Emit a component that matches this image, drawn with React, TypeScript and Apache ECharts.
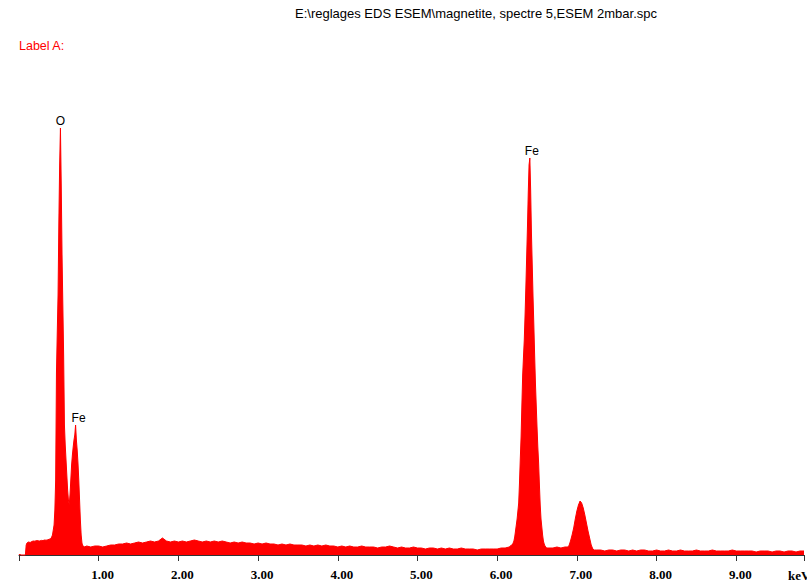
import React, { useEffect, useRef } from 'react';
import * as echarts from 'echarts';

// [keV, counts]
const lowBackground: [number, number][] = [
  [0.0, 0], [0.01, 10], [0.02, 0], [0.08, 0], [0.09, 100], [0.1, 120], [0.12, 130], [0.14, 125],
  [0.16, 135], [0.18, 140], [0.2, 138], [0.22, 145], [0.24, 142], [0.26, 140], [0.28, 146],
  [0.3, 144], [0.32, 150], [0.34, 148], [0.36, 152], [0.38, 158], [0.4, 165],
];

const oxygenAndFeL: [number, number][] = [
  [0.41, 180], [0.42, 200], [0.43, 250], [0.44, 300], [0.45, 450], [0.46, 750], [0.47, 1820],
  [0.48, 2220], [0.49, 2600], [0.5, 3320], [0.51, 3900], [0.52, 4270], [0.53, 3700], [0.54, 3000],
  [0.55, 2500], [0.56, 2000], [0.57, 1300], [0.58, 1100], [0.59, 950], [0.6, 800], [0.61, 650],
  [0.62, 550], [0.63, 500], [0.64, 600], [0.65, 750], [0.66, 900], [0.67, 1000], [0.68, 1080],
  [0.69, 1150], [0.7, 1200], [0.71, 1300], [0.72, 1150], [0.73, 1050], [0.74, 920], [0.75, 750],
  [0.76, 550], [0.77, 350], [0.78, 200], [0.79, 120], [0.8, 90], [0.81, 90], [0.82, 80],
];

const midBackground: [number, number][] = [
  [0.85, 90], [0.9, 80], [0.95, 90], [1.0, 90], [1.05, 80], [1.1, 90], [1.15, 100], [1.2, 100],
  [1.25, 110], [1.3, 110], [1.35, 120], [1.4, 110], [1.45, 120], [1.5, 130], [1.55, 120], [1.6, 130],
  [1.65, 140], [1.7, 130], [1.75, 140], [1.8, 170], [1.85, 140], [1.9, 130], [1.95, 140], [2.0, 130],
  [2.05, 140], [2.1, 130], [2.15, 140], [2.2, 150], [2.25, 140], [2.3, 130], [2.35, 140], [2.4, 130],
  [2.45, 140], [2.5, 130], [2.55, 140], [2.6, 130], [2.65, 120], [2.7, 130], [2.75, 120], [2.8, 130],
  [2.85, 120], [2.9, 120], [2.95, 110], [3.0, 120], [3.05, 110], [3.1, 120], [3.15, 110], [3.2, 110],
  [3.25, 100], [3.3, 110], [3.35, 100], [3.4, 110], [3.45, 100], [3.5, 100], [3.55, 100], [3.6, 90],
  [3.65, 100], [3.7, 90], [3.75, 100], [3.8, 90], [3.85, 100], [3.9, 90], [3.95, 90], [4.0, 80],
  [4.05, 90], [4.1, 80], [4.15, 90], [4.2, 80], [4.25, 80], [4.3, 90], [4.35, 80], [4.4, 80],
  [4.45, 80], [4.5, 70], [4.55, 80], [4.6, 80], [4.65, 90], [4.7, 80], [4.75, 70], [4.8, 80],
  [4.85, 70], [4.9, 70], [4.95, 80], [5.0, 70], [5.05, 70], [5.1, 60], [5.15, 70], [5.2, 70],
  [5.25, 60], [5.3, 70], [5.35, 60], [5.4, 70], [5.45, 60], [5.5, 60], [5.55, 70], [5.6, 60],
  [5.65, 60], [5.7, 60], [5.75, 50], [5.8, 60], [5.85, 60], [5.9, 60], [5.95, 60], [6.0, 60],
  [6.05, 70], [6.1, 70], [6.15, 80], [6.18, 100],
];

const feKalpha: [number, number][] = [
  [6.19, 100], [6.2, 120], [6.21, 140], [6.22, 180], [6.23, 240], [6.24, 300], [6.25, 360],
  [6.26, 440], [6.27, 520], [6.28, 720], [6.29, 960], [6.3, 1180], [6.31, 1500], [6.32, 1800],
  [6.33, 1980], [6.34, 2150], [6.35, 2400], [6.36, 2680], [6.37, 2980], [6.38, 3280], [6.39, 3620],
  [6.4, 3900], [6.41, 3970], [6.42, 3650], [6.43, 3220], [6.44, 2900], [6.45, 2580], [6.46, 2300],
  [6.47, 2000], [6.48, 1720], [6.49, 1500], [6.5, 1280], [6.51, 1080], [6.52, 920], [6.53, 700],
  [6.54, 500], [6.55, 360], [6.56, 280], [6.57, 200], [6.58, 140], [6.59, 110], [6.6, 90], [6.62, 70],
];

const feKbeta: [number, number][] = [
  [6.65, 70], [6.7, 70], [6.75, 80], [6.8, 70], [6.85, 80], [6.88, 80], [6.9, 90], [6.92, 140],
  [6.94, 200], [6.96, 270], [6.98, 360], [7.0, 440], [7.02, 500], [7.04, 540], [7.06, 520],
  [7.08, 470], [7.1, 400], [7.12, 320], [7.14, 240], [7.16, 170], [7.18, 100], [7.2, 60], [7.22, 50],
];

const highBackground: [number, number][] = [
  [7.25, 50], [7.3, 50], [7.35, 40], [7.4, 50], [7.45, 50], [7.5, 40], [7.55, 50], [7.6, 50],
  [7.65, 40], [7.7, 50], [7.75, 40], [7.8, 50], [7.85, 50], [7.9, 40], [7.95, 40], [8.0, 50],
  [8.05, 40], [8.1, 40], [8.15, 50], [8.2, 40], [8.25, 40], [8.3, 50], [8.35, 40], [8.4, 40],
  [8.45, 40], [8.5, 50], [8.55, 40], [8.6, 40], [8.65, 40], [8.7, 50], [8.75, 40], [8.8, 40],
  [8.85, 40], [8.9, 40], [8.95, 50], [9.0, 40], [9.05, 40], [9.1, 40], [9.15, 40], [9.2, 40],
  [9.25, 30], [9.3, 40], [9.35, 40], [9.4, 40], [9.45, 30], [9.5, 40], [9.55, 40], [9.6, 30],
  [9.65, 40], [9.7, 40], [9.75, 30], [9.8, 40], [9.85, 40],
];

const peakLabels = ['O', 'Fe', 'Fe'];
const peakEnergies = [0.52, 0.71, 6.41];
const peakCounts = [4270, 1300, 3970];
const peakOffsets: [number, number][] = [[0, 0], [3, 0], [2, 0]];

const titleText = 'E:\\reglages EDS ESEM\\magnetite, spectre 5,ESEM 2mbar.spc';
const labelText = 'Label A:';
const unitText = 'keV';

const spectrum = [
  ...lowBackground, ...oxygenAndFeL, ...midBackground, ...feKalpha, ...feKbeta, ...highBackground,
];

export default function App() {
  const ref = useRef<HTMLDivElement>(null);
  useEffect(() => {
    const chart = echarts.init(ref.current!, null, { renderer: 'svg' });
    const sans = 'Liberation Sans, Arial, sans-serif';
    const serif = 'Liberation Serif, Times New Roman, serif';
    chart.setOption({
      animation: false,
      backgroundColor: '#ffffff',
      grid: { left: 19, right: 0, top: 61, bottom: 20, containLabel: false },
      xAxis: [
        {
          type: 'value',
          min: 0,
          max: 9.85,
          interval: 1,
          position: 'bottom',
          axisLine: { show: true, lineStyle: { color: '#333333', width: 1 } },
          axisTick: { show: true, length: 3, lineStyle: { color: '#333333' } },
          splitLine: { show: false },
          axisLabel: {
            margin: 7,
            color: '#000000',
            fontFamily: serif,
            fontWeight: 'bold',
            fontSize: 13,
            padding: [0, 0, 0, 8],
            formatter: (v: number) => (v === 0 || Math.abs(v - Math.round(v)) > 1e-6 ? '' : v.toFixed(2)),
          },
        },
        {
          type: 'value',
          min: 0,
          max: 9.85,
          interval: 1,
          position: 'bottom',
          offset: 0,
          axisLine: { show: false },
          axisTick: { show: true, inside: true, length: 3, lineStyle: { color: '#333333' } },
          axisLabel: { show: false },
          splitLine: { show: false },
        },
      ],
      yAxis: { type: 'value', min: -60, max: 4940, show: false, splitLine: { show: false } },
      graphic: [
        {
          type: 'text',
          x: 476,
          y: 13,
          style: {
            text: titleText,
            fill: '#000000',
            font: `13px ${sans}`,
            textAlign: 'center',
            textVerticalAlign: 'middle',
          },
        },
        {
          type: 'text',
          x: 19,
          y: 46,
          style: {
            text: labelText,
            fill: '#ff0000',
            font: `12.5px ${sans}`,
            textAlign: 'left',
            textVerticalAlign: 'middle',
          },
        },
        {
          type: 'text',
          x: 788,
          y: 575,
          style: {
            text: unitText,
            fill: '#000000',
            font: `bold 13px ${serif}`,
            textAlign: 'left',
            textVerticalAlign: 'middle',
          },
        },
      ],
      series: [
        {
          type: 'line',
          data: spectrum,
          xAxisIndex: 0,
          symbol: 'none',
          showSymbol: false,
          lineStyle: { color: '#ff0000', width: 1 },
          areaStyle: { color: '#ff0000', opacity: 1 },
          silent: true,
          markPoint: {
            symbol: 'rect',
            symbolSize: 0,
            label: {
              show: true,
              position: 'top',
              distance: 1,
              formatter: '{b}',
              color: '#000000',
              fontFamily: sans,
              fontSize: 12,
            },
            data: peakLabels.map((name, i) => ({
              name,
              coord: [peakEnergies[i], peakCounts[i]],
              label: { offset: peakOffsets[i] },
            })),
          },
        },
      ],
    });
    return () => chart.dispose();
  }, []);
  return (
    <div
      ref={ref}
      style={{ position: 'fixed', left: 0, top: 0, width: 807, height: 581, background: '#fff' }}
    />
  );
}
